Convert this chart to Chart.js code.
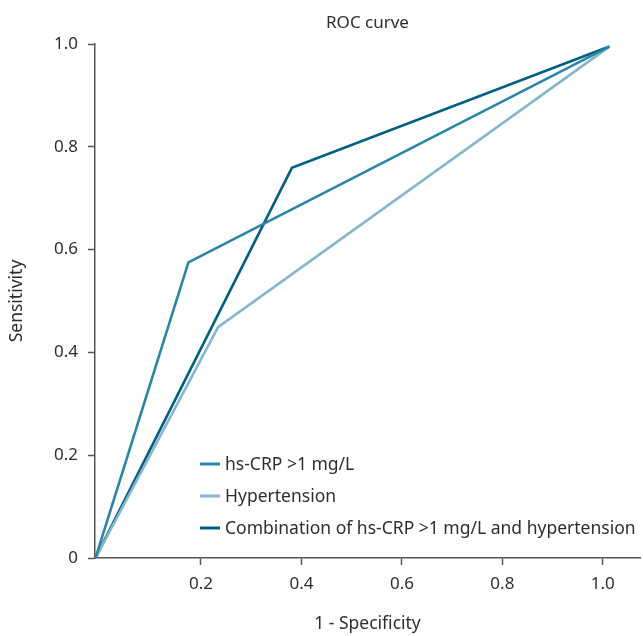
<!DOCTYPE html>
<html lang="en">
  <head>
    <meta charset="UTF-8" />
    <title>ROC curve</title>
    <script src="https://cdn.jsdelivr.net/npm/chart.js"></script>
    <style>
      html,
      body {
        margin: 0;
        padding: 0;
        background: #ffffff;
      }
      .chart-box {
        width: 643px;
        height: 636px;
      }
    </style>
  </head>
  <body>
    <div class="chart-box">
      <canvas id="rocChart"></canvas>
    </div>

    <script>
      // values
      const seriesNames = [
        "hs-CRP >1 mg/L",
        "Hypertension",
        "Combination of hs-CRP >1 mg/L and hypertension",
      ];
      const crpX = [-0.01, 0.175, 1.013];
      const crpY = [0, 0.575, 0.995];
      const htnX = [-0.01, 0.234, 1.013];
      const htnY = [0, 0.449, 0.995];
      const comboX = [-0.01, 0.381, 1.013];
      const comboY = [0, 0.759, 0.995];
      const xTicks = [0.2, 0.4, 0.6, 0.8, 1.0];
      const yTicks = [0, 0.2, 0.4, 0.6, 0.8, 1.0];

      const colors = ["#2b86a6", "#86b6cc", "#035f80"];
      const textColor = "#2e2e2e";
      const axisColor = "#555555";
      const fontFamily = "'Noto Sans', 'DejaVu Sans', sans-serif";

      function toPoints(xs, ys) {
        return xs.map((x, i) => ({ x: x, y: ys[i] }));
      }

      function tickLabel(v) {
        return v === 0 ? "0" : v.toFixed(1);
      }

      // legend drawn inside the plot area
      const insideLegend = {
        id: "insideLegend",
        afterDatasetsDraw(chart) {
          const ctx = chart.ctx;
          const area = chart.chartArea;
          const left = area.left + 105;
          const firstRow = area.bottom - 94;
          ctx.save();
          ctx.font = "17.5px " + fontFamily;
          ctx.textBaseline = "middle";
          ctx.fillStyle = textColor;
          chart.data.datasets.forEach((ds, i) => {
            const y = firstRow + i * 32;
            ctx.beginPath();
            ctx.strokeStyle = ds.borderColor;
            ctx.lineWidth = 3;
            ctx.moveTo(left, y);
            ctx.lineTo(left + 20, y);
            ctx.stroke();
            ctx.fillText(ds.label, left + 25, y + 1);
          });
          ctx.restore();
        },
      };

      const ctx = document.getElementById("rocChart").getContext("2d");
      const rocChart = new Chart(ctx, {
        type: "line",
        data: {
          datasets: [
            { label: seriesNames[0], data: toPoints(crpX, crpY), borderColor: colors[0] },
            { label: seriesNames[1], data: toPoints(htnX, htnY), borderColor: colors[1] },
            { label: seriesNames[2], data: toPoints(comboX, comboY), borderColor: colors[2] },
          ].map((ds) => ({
            ...ds,
            borderWidth: 2.6,
            pointRadius: 0,
            fill: false,
            tension: 0,
          })),
        },
        plugins: [insideLegend],
        options: {
          responsive: true,
          maintainAspectRatio: false,
          animation: false,
          layout: { padding: { left: 0, right: 3, top: 0, bottom: 0 } },
          plugins: {
            legend: { display: false },
            tooltip: { enabled: false },
            title: {
              display: true,
              text: "ROC curve",
              fullSize: false,
              color: textColor,
              font: { family: fontFamily, size: 17, weight: "normal" },
              padding: { top: 13, bottom: 10.6 },
            },
          },
          scales: {
            x: {
              type: "linear",
              min: -0.011,
              max: 1.074,
              afterBuildTicks(scale) {
                scale.ticks = xTicks.map((v) => ({ value: v }));
              },
              afterFit(scale) {
                scale.height = 78;
              },
              grid: {
                drawOnChartArea: false,
                drawTicks: true,
                tickLength: 7,
                tickWidth: 1.5,
                tickColor: axisColor,
              },
              border: { display: true, color: axisColor, width: 1.5 },
              ticks: {
                color: textColor,
                padding: 9,
                font: { family: fontFamily, size: 17 },
                callback: tickLabel,
              },
              title: {
                display: true,
                text: "1 - Specificity",
                color: textColor,
                font: { family: fontFamily, size: 17.5 },
                padding: { top: 0, bottom: 1 },
              },
            },
            y: {
              type: "linear",
              min: 0,
              max: 1.0,
              afterBuildTicks(scale) {
                scale.ticks = yTicks.map((v) => ({ value: v }));
              },
              afterFit(scale) {
                scale.width = 95;
              },
              grid: {
                drawOnChartArea: false,
                drawTicks: true,
                tickLength: 7,
                tickWidth: 1.5,
                tickColor: axisColor,
              },
              border: { display: true, color: axisColor, width: 1.5 },
              ticks: {
                color: textColor,
                padding: 10,
                font: { family: fontFamily, size: 17 },
                callback: tickLabel,
              },
              title: {
                display: true,
                text: "Sensitivity",
                color: textColor,
                font: { family: fontFamily, size: 17.5 },
                padding: { top: 7, bottom: 0 },
              },
            },
          },
        },
      });
    </script>
  </body>
</html>
